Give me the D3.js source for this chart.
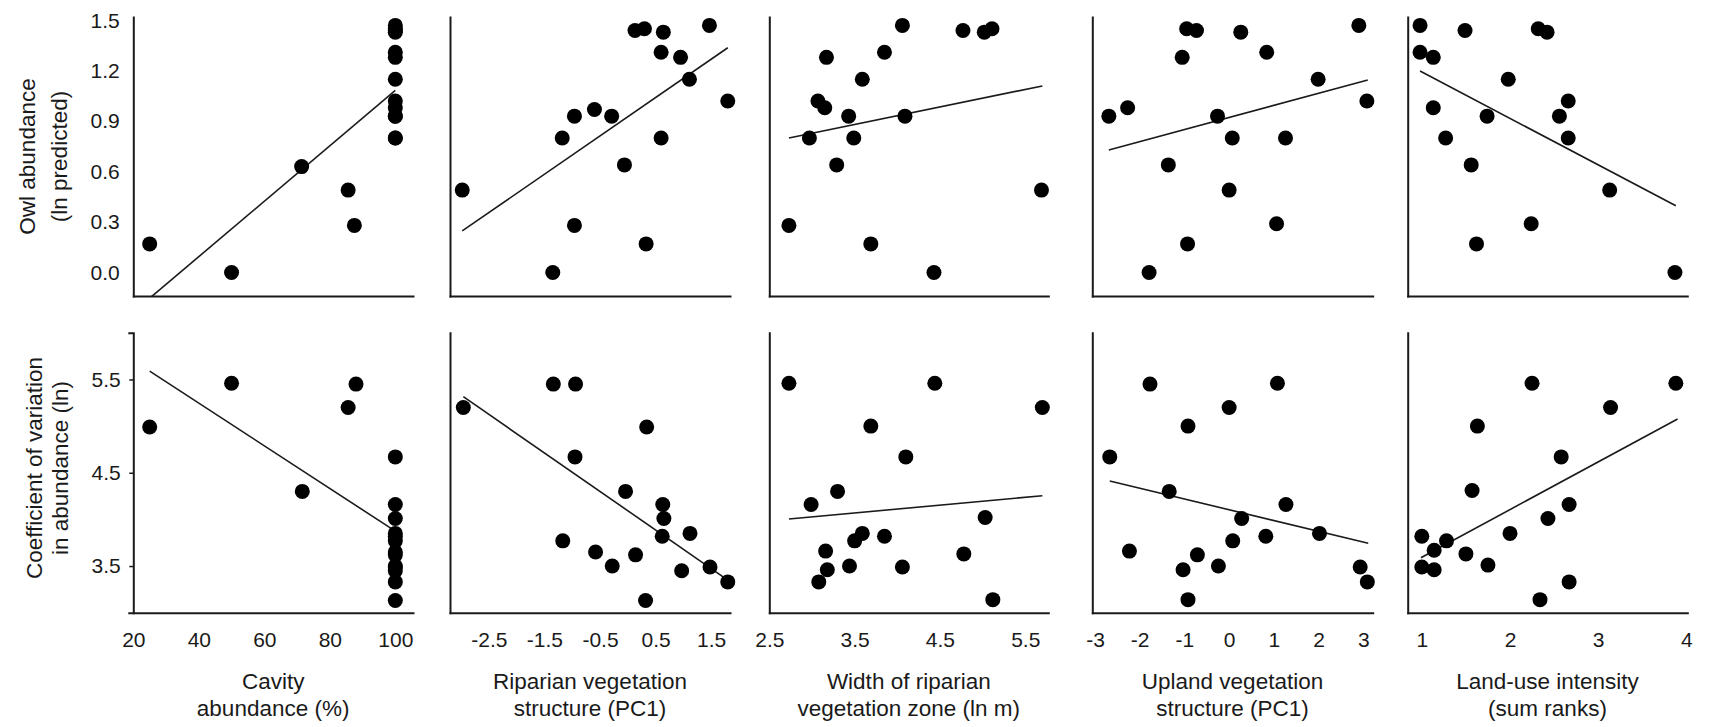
<!DOCTYPE html>
<html><head><meta charset="utf-8">
<script src="https://cdn.jsdelivr.net/npm/d3@7"></script>
<style>
html,body{margin:0;padding:0;background:#fff;}
svg{display:block;font-family:"Liberation Sans",Arial,sans-serif;}
</style></head><body>
<svg id="chart" width="1711" height="727"></svg>
<script>
// ---------------- DATA ----------------
// Predictor names (x-axis titles, two lines each)
const predictorTitles = [
  ["Cavity", "abundance (%)"],
  ["Riparian vegetation", "structure (PC1)"],
  ["Width of riparian", "vegetation zone (ln m)"],
  ["Upland vegetation", "structure (PC1)"],
  ["Land-use intensity", "(sum ranks)"]
];
const responseTitles = [
  ["Owl abundance", "(ln predicted)"],
  ["Coefficient of variation", "in abundance (ln)"]
];
// x tick labels
const xTickValues = [
  [20, 40, 60, 80, 100],
  [-2.5, -1.5, -0.5, 0.5, 1.5],
  [2.5, 3.5, 4.5, 5.5],
  [-3, -2, -1, 0, 1, 2, 3],
  [1, 2, 3, 4]
];
const xTickFormats = ["d", ".1f", ".1f", "d", "d"];
const xDomains = [[20, 105.4], [-3.2, 1.84], [2.5, 5.77], [-3.06, 3.21], [0.84, 4.01]];
// y tick labels
const owlTicks = [0.0, 0.3, 0.6, 0.9, 1.2, 1.5];
const cvTicks = [3.5, 4.5, 5.5];
const owlDomain = [-0.14, 1.52];
const cvDomain = [3.0, 6.0];

// Owl abundance (ln predicted) vs each predictor: [x, y]
const cavityOwl = [[25,0.17],[50,0.00],[71.4,0.63],[85.6,0.49],[87.5,0.28],
  [100,1.47],[100,1.45],[100,1.44],[100,1.43],[100,1.31],[100,1.28],[100,1.15],
  [100,1.02],[100,0.98],[100,0.93],[100,0.93],[100,0.80],[100,0.80]];
const riparianOwl = [[-2.98,0.49],[-0.96,0.93],[-1.18,0.80],[-0.60,0.97],[-0.29,0.93],
  [-0.06,0.64],[-0.96,0.28],[-1.35,0.00],[0.33,0.17],[0.13,1.44],[0.30,1.45],
  [0.64,1.43],[0.60,1.31],[0.95,1.28],[1.11,1.15],[1.47,1.47],[1.80,1.02],[0.60,0.80]];
const widthOwl = [[3.17,1.28],[3.59,1.15],[3.07,1.02],[3.15,0.98],[3.43,0.93],[2.97,0.80],
  [3.49,0.80],[3.29,0.64],[2.73,0.28],[3.69,0.17],[4.06,1.47],[3.85,1.31],[4.09,0.93],
  [4.77,1.44],[5.02,1.43],[5.11,1.45],[5.69,0.49],[4.43,0.00]];
const uplandOwl = [[-0.95,1.45],[-0.73,1.44],[0.26,1.43],[-1.05,1.28],[0.84,1.31],
  [-2.69,0.93],[-2.27,0.98],[-0.26,0.93],[0.07,0.80],[1.26,0.80],[-1.36,0.64],[0.00,0.49],
  [1.06,0.29],[-0.93,0.17],[-1.79,0.00],[2.90,1.47],[1.99,1.15],[3.08,1.02]];
const landUseOwl = [[0.98,1.47],[1.49,1.44],[2.32,1.45],[2.42,1.43],[0.98,1.31],[1.13,1.28],
  [1.98,1.15],[2.66,1.02],[2.56,0.93],[1.13,0.98],[1.74,0.93],[1.27,0.80],[2.66,0.80],
  [1.56,0.64],[3.13,0.49],[2.24,0.29],[1.62,0.17],[3.87,0.00]];

// Coefficient of variation in abundance (ln) vs each predictor: [x, y]
const cavityCV = [[25,4.99],[50,5.46],[85.6,5.20],[88,5.45],[71.6,4.30],
  [100,4.67],[100,4.16],[100,4.01],[100,3.85],[100,3.82],[100,3.77],[100,3.65],
  [100,3.62],[100,3.50],[100,3.49],[100,3.45],[100,3.33],[100,3.13]];
const riparianCV = [[-2.96,5.20],[-1.34,5.45],[-0.94,5.45],[0.34,4.99],[-0.95,4.67],
  [-0.04,4.30],[0.63,4.16],[0.65,4.01],[0.62,3.82],[1.12,3.85],[-1.17,3.77],[-0.58,3.65],
  [0.14,3.62],[-0.28,3.50],[0.97,3.45],[1.48,3.49],[1.80,3.33],[0.32,3.13]];
const widthCV = [[2.73,5.46],[2.99,4.16],[3.30,4.30],[3.16,3.66],[3.18,3.46],[3.08,3.33],
  [3.44,3.50],[3.50,3.77],[3.59,3.85],[3.69,5.00],[4.44,5.46],[5.70,5.20],[4.10,4.67],
  [3.85,3.82],[4.06,3.49],[4.78,3.63],[5.03,4.02],[5.12,3.14]];
const uplandCV = [[-2.67,4.67],[-1.77,5.45],[-0.92,5.00],[0.00,5.20],[-1.34,4.30],
  [0.28,4.01],[1.27,4.16],[0.82,3.82],[0.08,3.77],[-2.23,3.66],[-0.71,3.62],[-1.03,3.46],
  [-0.24,3.50],[-0.92,3.14],[1.08,5.46],[2.02,3.85],[2.93,3.49],[3.09,3.33]];
const landUseCV = [[1.00,3.82],[1.00,3.49],[1.14,3.67],[1.14,3.46],[1.28,3.77],[1.50,3.63],
  [1.57,4.31],[1.63,5.00],[1.75,3.51],[2.00,3.85],[2.25,5.46],[2.34,3.14],[2.43,4.01],
  [2.58,4.67],[2.67,4.16],[2.67,3.33],[3.14,5.20],[3.88,5.46]];

// Fitted regression lines: [[x1, y1], [x2, y2]]
const owlFits = [
  [[25, -0.153], [100, 1.083]],
  [[-2.98, 0.247], [1.80, 1.337]],
  [[2.73, 0.80], [5.70, 1.11]],
  [[-2.69, 0.729], [3.10, 1.145]],
  [[0.98, 1.199], [3.88, 0.397]]
];
const cvFits = [
  [[25, 5.589], [100, 3.874]],
  [[-2.96, 5.315], [1.80, 3.35]],
  [[2.73, 4.004], [5.70, 4.254]],
  [[-2.67, 4.412], [3.11, 3.744]],
  [[0.99, 3.589], [3.90, 5.076]]
];

// ---------------- LAYOUT ----------------
const panelLeft = [133.3, 450, 769.3, 1092.3, 1407.7];
const panelRight = [413, 730, 1048.3, 1372.7, 1687.3];
const rows = [
  { top: 17, bottom: 296, domain: owlDomain, ticks: owlTicks, fmt: ".1f",
    points: [cavityOwl, riparianOwl, widthOwl, uplandOwl, landUseOwl], fits: owlFits,
    tickSize: 0, tickPad: 13.5, titleX: [35, 67], titleY: 156.5, titles: responseTitles[0] },
  { top: 332.8, bottom: 612.7, domain: cvDomain, ticks: cvTicks, fmt: ".1f",
    points: [cavityCV, riparianCV, widthCV, uplandCV, landUseCV], fits: cvFits,
    tickSize: 4, tickPad: 8.5, titleX: [41.7, 68], titleY: 468, titles: responseTitles[1] }
];

const svg = d3.select("#chart");
const ink = "#1a1a1a";
const hyphenFmt = f => v => d3.format(f)(v).replace("\u2212", "-");

rows.forEach((row, ri) => {
  const y = d3.scaleLinear().domain(row.domain).range([row.bottom, row.top]);
  for (let p = 0; p < 5; p++) {
    const x = d3.scaleLinear().domain(xDomains[p]).range([panelLeft[p], panelRight[p]]);
    const g = svg.append("g");
    const clipId = `clip-${ri}-${p}`;
    svg.append("clipPath").attr("id", clipId).append("rect")
      .attr("x", panelLeft[p]).attr("y", row.top)
      .attr("width", panelRight[p] - panelLeft[p]).attr("height", row.bottom - row.top);

    // y axis
    const yAxis = d3.axisLeft(y).tickSizeOuter(0);
    if (p === 0) {
      yAxis.tickValues(row.ticks).tickFormat(hyphenFmt(row.fmt))
        .tickSize(row.tickSize).tickPadding(row.tickPad);
    } else {
      yAxis.tickValues([]);
    }
    const ya = g.append("g").attr("transform", `translate(${panelLeft[p]},0)`).call(yAxis);

    // x axis
    const xAxis = d3.axisBottom(x).tickSizeOuter(0).tickSize(0);
    if (ri === 1) {
      xAxis.tickValues(xTickValues[p]).tickFormat(hyphenFmt(xTickFormats[p])).tickPadding(19);
    } else {
      xAxis.tickValues([]);
    }
    const xa = g.append("g").attr("transform", `translate(0,${row.bottom})`).call(xAxis);

    [ya, xa].forEach(a => {
      a.select(".domain").attr("stroke", ink).attr("stroke-width", 2).attr("stroke-linecap", "square");
      a.selectAll(".tick line").attr("stroke", ink).attr("stroke-width", 1.5);
      a.selectAll(".tick text").attr("fill", ink).style("font-size", "21px")
        .style("font-family", '"Liberation Sans", Arial, sans-serif');
    });

    // regression line
    const fit = row.fits[p];
    g.append("line")
      .attr("clip-path", `url(#${clipId})`)
      .attr("x1", x(fit[0][0])).attr("y1", y(fit[0][1]))
      .attr("x2", x(fit[1][0])).attr("y2", y(fit[1][1]))
      .attr("stroke", ink).attr("stroke-width", 1.6);

    // points
    g.selectAll("circle.pt").data(row.points[p]).join("circle")
      .attr("class", "pt")
      .attr("cx", d => x(d[0])).attr("cy", d => y(d[1]))
      .attr("r", 7.5).attr("fill", "#000");

    // x titles under bottom row
    if (ri === 1) {
      const cx = (panelLeft[p] + panelRight[p]) / 2;
      predictorTitles[p].forEach((t, li) => {
        svg.append("text").attr("x", cx).attr("y", 689 + li * 26.5)
          .attr("text-anchor", "middle").attr("fill", ink)
          .style("font-size", "22.5px").text(t);
      });
    }
  }
  // y titles
  row.titles.forEach((t, li) => {
    svg.append("text")
      .attr("transform", `translate(${row.titleX[li]},${row.titleY}) rotate(-90)`)
      .attr("text-anchor", "middle").attr("fill", ink)
      .style("font-size", "22.5px").text(t);
  });
});
</script>
</body></html>
